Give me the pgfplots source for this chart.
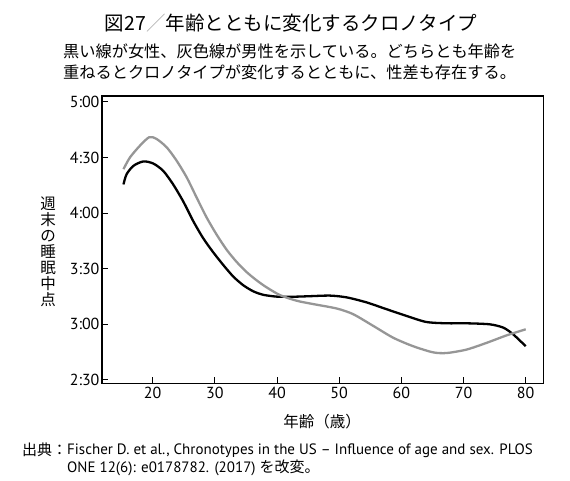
\documentclass[border=0pt]{standalone}
\usepackage{fontspec}
\setmainfont{PT Sans}
\newfontfamily\cjk{Noto Sans CJK JP}
\usepackage{pgfplots}
\pgfplotsset{compat=1.18}
\definecolor{maleg}{RGB}{150,150,150}
\begin{document}
\begin{tikzpicture}[x=1pt,y=1pt]
\path[use as bounding box] (0,0) rectangle (570,481);
\begin{axis}[
  at={(102pt,97.5pt)}, anchor=south west,
  scale only axis, width=441.3pt, height=287.5pt,
  xmin=11.85, xmax=82.83, ymin=2.468, ymax=5.052,
  xtick={20,30,40,50,60,70,80},
  ytick={2.5,3,3.5,4,4.5,5},
  yticklabels={2:30,3:00,3:30,4:00,4:30,5:00},
  xtick pos=bottom, ytick pos=left,
  tick align=inside, major tick length=6pt,
  axis line style={line width=1.2pt},
  every tick/.style={line width=1pt, black},
  every tick label/.append style={font=\fontsize{16}{16}\selectfont},
  yticklabel style={xshift=1pt},
  /pgf/number format/assume math mode=true,
  clip=false,
]
\addplot[black, line width=2.3pt, smooth, tension=0.45] coordinates {
(15.3,4.257) (15.8,4.348) (16.9,4.424) (18.5,4.464) (20.1,4.445) (21.7,4.379)
(23.3,4.257) (24.9,4.106) (26.5,3.930) (28.1,3.776) (29.7,3.650) (31.4,3.530)
(33.0,3.427) (34.6,3.350) (36.2,3.296) (37.8,3.265) (39.9,3.249) (42.1,3.247)
(45.0,3.252) (48.5,3.258) (51.2,3.242) (54.4,3.197) (57.6,3.136) (60.8,3.076)
(64.0,3.021) (67.3,3.009) (70.5,3.009) (74.2,3.000) (76.4,2.970) (78.0,2.909)
(80.0,2.803)};
\addplot[maleg, line width=2.3pt, smooth, tension=0.45] coordinates {
(15.3,4.394) (16.35,4.500) (17.96,4.606) (19.45,4.682) (20.6,4.667) (22.25,4.591)
(23.86,4.470) (25.5,4.318) (27.1,4.136) (28.7,3.958) (30.3,3.805) (31.9,3.670)
(33.5,3.561) (35.1,3.470) (36.7,3.396) (38.3,3.333) (40.5,3.262) (43.15,3.212)
(45.8,3.182) (49.6,3.142) (52.25,3.091) (55.5,2.985) (58.7,2.879) (61.9,2.803)
(65.1,2.748) (67.3,2.742) (70.5,2.773) (73.7,2.833) (76.9,2.900) (80.0,2.955)};
\end{axis}
% title and subtitle
\node[font=\cjk\fontsize{19.5}{19.5}\selectfont, anchor=center] at (291,458) {図27{\color{gray!60}／}年齢とともに変化するクロノタイプ};
\node[font=\cjk\fontsize{16.2}{16.2}\selectfont, anchor=west, inner sep=0pt] at (63,430) {黒い線が女性、灰色線が男性を示している。どちらとも年齢を};
\node[font=\cjk\fontsize{16.2}{16.2}\selectfont, anchor=west, inner sep=0pt] at (63,409) {重ねるとクロノタイプが変化するとともに、性差も存在する。};
% y label
\node[font=\cjk\fontsize{15.5}{16}\selectfont, align=center, inner sep=0pt] at (48,229) {週\\末\\の\\睡\\眠\\中\\点};
% x label
\node[font=\cjk\fontsize{15.5}{15.5}\selectfont, inner sep=0pt] at (322,59) {年齢（歳）};
% source
\node[font=\cjk\fontsize{15}{15}\selectfont, anchor=west, inner sep=0pt] at (22,31) {出典：};
\node[font=\fontsize{15}{15}\selectfont, anchor=base west, inner sep=0pt] at (67,26) {Fischer D. et al., Chronotypes in the US – Influence of age and sex. PLOS};
\node[font=\fontsize{15}{15}\selectfont, anchor=base west, inner sep=0pt] at (67,8) {ONE 12(6): e0178782. (2017) {\cjk を改変。}};
\end{tikzpicture}
\end{document}
